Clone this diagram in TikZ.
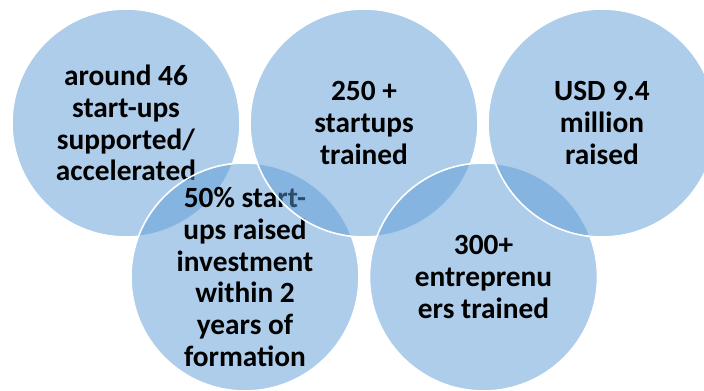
\documentclass[tikz,border=0pt]{standalone}
\usepackage{fontspec}
\setmainfont{Carlito}
\definecolor{bubblefill}{HTML}{5B9BD5}
\begin{document}
\begin{tikzpicture}[x=0.75pt,y=-0.75pt]
		\tikzstyle{bubble}=[circle,draw=white,line width=1.2pt,fill=bubblefill,fill opacity=0.5,text opacity=1,minimum size=171pt,inner sep=0pt,align=center,font=\fontsize{22}{23.8}\selectfont\bfseries]
		\useasboundingbox (0,0) rectangle (704,391);
		\clip (0,0) rectangle (704,391);
		\begin{scope}
			\node [bubble] (c1) at (126,123) {around 46\\start-ups\\supported/\\accelerated};
			\node [bubble] (c2) at (245,277) {50\% start-\\ups raised\\investment\\within 2\\years of\\formation};
			\node [bubble] (c3) at (364,123) {250 +\\startups\\trained};
			\node [bubble] (c4) at (483.5,277) {300+\\entreprenu\\ers trained};
			\node [bubble] (c5) at (602,123) {USD 9.4\\million\\raised};
		\end{scope}
\end{tikzpicture}
\end{document}
